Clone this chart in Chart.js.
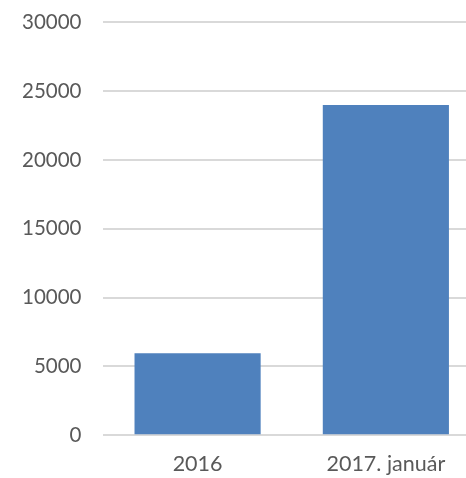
<!DOCTYPE html>
<html>
<head>
<meta charset="utf-8">
<script src="https://cdn.jsdelivr.net/npm/chart.js@4"></script>
<style>
  html, body { margin: 0; padding: 0; background: #fff; overflow: hidden; }
  #wrap { position: absolute; left: 0; top: -12px; width: 480px; height: 505px; }
</style>
</head>
<body>
<div id="wrap"><canvas id="chart"></canvas></div>
<script>
const categories = ['2016', '2017. január'];
const values = [5950, 24000];
const yTicks = [0, 5000, 10000, 15000, 20000, 25000, 30000];

const textColor = '#595959';
const gridColor = '#d9d9d9';

const ctx = document.getElementById('chart').getContext('2d');
new Chart(ctx, {
    type: 'bar',
    data: {
        labels: categories,
        datasets: [{
            data: values,
            backgroundColor: '#4f81bd',
            borderWidth: 0,
            barPercentage: 0.67,
            categoryPercentage: 1
        }]
    },
    options: {
        responsive: true,
        maintainAspectRatio: false,
        animation: false,
        layout: { padding: { top: 8, right: 0, bottom: 0, left: 0 } },
        plugins: {
            legend: { display: false },
            tooltip: { enabled: false }
        },
        scales: {
            x: {
                grid: { display: false, drawTicks: false },
                border: { display: false },
                ticks: { color: textColor, font: { family: 'Lato', size: 21.5 }, padding: 16 }
            },
            y: {
                min: 0,
                max: 30000,
                afterBuildTicks: axis => { axis.ticks = yTicks.map(v => ({ value: v })); },
                grid: { color: gridColor, lineWidth: 2, drawTicks: false },
                border: { display: false },
                ticks: {
                    color: textColor,
                    font: { family: 'Lato', size: 20.5 },
                    padding: 22,
                    callback: v => String(v)
                }
            }
        }
    }
});
</script>
</body>
</html>
